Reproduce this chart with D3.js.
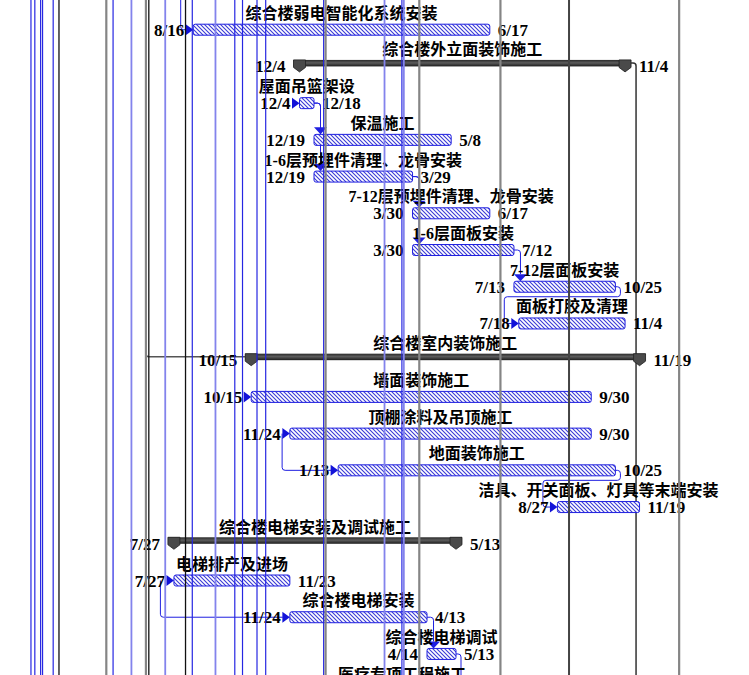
<!DOCTYPE html>
<html><head><meta charset="utf-8">
<script src="https://cdn.jsdelivr.net/npm/d3@7"></script>
<style>
html,body{margin:0;padding:0;background:#fff;overflow:hidden}
svg{display:block}
text{font-family:'Liberation Serif','Noto Sans CJK SC',serif;font-weight:bold;font-size:16px;fill:#000}
text.date{font-size:17px}
</style></head><body><svg id="c" width="749" height="675"></svg>
<script>
// ---------------- data ----------------
const taskNames = ["综合楼弱电智能化系统安装","综合楼外立面装饰施工","屋面吊篮架设","保温施工","1-6层预埋件清理、龙骨安装","7-12层预埋件清理、龙骨安装","1-6层面板安装","7-12层面板安装","面板打胶及清理","综合楼室内装饰施工","墙面装饰施工","顶棚涂料及吊顶施工","地面装饰施工","洁具、开关面板、灯具等末端安装","综合楼电梯安装及调试施工","电梯排产及进场","综合楼电梯安装","综合楼电梯调试","医疗专项工程施工"];
const taskStarts = ["2019-08-16","2019-12-04","2019-12-04","2019-12-19","2019-12-19","2020-03-30","2020-03-30","2020-07-13","2020-07-18","2019-10-15","2019-10-15","2019-11-24","2020-01-13","2020-08-27","2019-07-27","2019-07-27","2019-11-24","2020-04-14","2019-11-24"];
const taskFinishes = ["2020-06-17","2020-11-04","2019-12-18","2020-05-08","2020-03-29","2020-06-17","2020-07-12","2020-10-25","2020-11-04","2020-11-19","2020-09-30","2020-09-30","2020-10-25","2020-11-19","2020-05-13","2019-11-23","2020-04-13","2020-05-13","2020-07-12"];
const taskSummary = [false,true,false,false,false,false,false,false,false,true,false,false,false,false,true,false,false,false,true];
// arrow into bar start from the left
const leftArrowTasks = [0,2,8,10,11,12,13,15,16];
// finish-to-start links dropping straight down
const dropLinks = [[2,3],[2,4],[4,5],[4,6],[6,7],[16,17]];
// links wrapping back to the left
const wrapLinks = [[7,8],[12,13]];
// connectors coming from tasks above the view: [task, date of vertical]
const incomingLinks = [[0,"2019-08-03"],[9,"2019-06-28"]];
// connectors leaving to tasks below the view
const outgoingLinks = [1,17];
// side connectors: [fromRow, toTask, date of vertical]
const sideLinks = [[15,16,"2019-07-13"],[11,12,"2019-11-16"]];
// link lines of tasks outside the view: [date, style]
const linkLines = [
 ["2019-03-01","blue"],["2019-03-05","blue"],["2019-03-11","blue"],["2019-03-13","blue"],
 ["2019-03-24","blue"],["2019-03-30","black"],["2019-05-18","gray"],["2019-05-25","blue"],
 ["2019-06-13","light"],["2019-06-28","gray"],["2019-07-01","black"],["2019-07-18","light"],
 ["2019-08-08","black"],["2019-08-15","blue"],["2019-09-08","light"],["2019-09-28","blue"],
 ["2019-10-06","blue"],["2019-10-21","blue"],["2019-10-30","blue"],["2019-12-29","blue"],
 ["2019-12-31","gray"],["2020-03-01","light"],["2020-03-19","blue"],["2020-03-21","light"],
 ["2020-04-06","gray"],["2020-06-29","gray"],["2020-09-08","dark"],["2020-12-31","gray"]
];

// ---------------- scales ----------------
const parse = d3.timeParse("%Y-%m-%d");
const fmt = d3.timeFormat("%-m/%-d");
const W = 749, H = 675;
const d0 = parse("2019-01-01"), d1 = parse("2021-01-01"), dRef = parse("2019-12-19");
const pxPerDay = 0.966, xRef = 314;
const x = d3.scaleTime().domain([d0, d1])
  .range([xRef - d3.timeDay.count(d0, dRef) * pxPerDay, xRef + d3.timeDay.count(dRef, d1) * pxPerDay]);
const n = taskNames.length;
const y = d3.scalePoint().domain(d3.range(n)).range([29.7, 29.7 + (n - 1) * 36.72]);

const tasks = taskNames.map((name, i) => {
  const s = parse(taskStarts[i]), f = parse(taskFinishes[i]);
  return {i, name, s, f, xs: x(s), xe: x(d3.timeDay.offset(f, 1)), cy: y(i), summary: taskSummary[i]};
});

const svg = d3.select("#c");
const defs = svg.append("defs");
const pat = defs.append("pattern").attr("id", "hatch").attr("patternUnits", "userSpaceOnUse")
  .attr("width", 4).attr("height", 4);
pat.append("rect").attr("width", 4).attr("height", 4).attr("fill", "#fff");
pat.append("path").attr("d", "M-1,-1L5,5M3,-1L5,1M-1,3L1,5").attr("stroke", "#3a3ad6").attr("stroke-width", 1.1);
const lg = defs.append("linearGradient").attr("id", "sumg").attr("x1", 0).attr("y1", 0).attr("x2", 0).attr("y2", 1);
lg.append("stop").attr("offset", "0%").attr("stop-color", "#2a2a2a");
lg.append("stop").attr("offset", "45%").attr("stop-color", "#5c5c5c");
lg.append("stop").attr("offset", "100%").attr("stop-color", "#1c1c1c");

const gLinks = svg.append("g");
const gBars = svg.append("g");
const gText = svg.append("g");
const gLines = svg.append("g");

const BLUE = "#1f1fe0";
const r = 3;

// ---------------- connectors ----------------
dropLinks.forEach(([a, b]) => {
  const p = tasks[a], q = tasks[b];
  const vx = p.xe + 6.5, top = q.cy - 5.5 - 7;
  gLinks.append("path").attr("fill", "none").attr("stroke", BLUE).attr("stroke-width", 1)
    .attr("d", `M${p.xe},${p.cy}H${vx - r}Q${vx},${p.cy} ${vx},${p.cy + r}V${top}`);
  gLinks.append("path").attr("fill", BLUE)
    .attr("d", `M${vx - 6.5},${top}H${vx + 6.5}L${vx},${q.cy - 5.5}Z`);
});
wrapLinks.forEach(([a, b]) => {
  const p = tasks[a], q = tasks[b];
  const vx = p.xe + 5, hy = p.cy + 10, lx = q.xs - 14.5;
  gLinks.append("path").attr("fill", "none").attr("stroke", BLUE).attr("stroke-width", 1)
    .attr("d", `M${p.xe},${p.cy}H${vx - r}Q${vx},${p.cy} ${vx},${p.cy + r}V${hy - r}Q${vx},${hy} ${vx - r},${hy}` +
      `H${lx + r}Q${lx},${hy} ${lx},${hy + r}V${q.cy - r}Q${lx},${q.cy} ${lx + r},${q.cy}H${q.xs - 7}`);
});
incomingLinks.forEach(([b, dt]) => {
  const q = tasks[b], vx = x(parse(dt));
  const ty = q.summary ? q.cy - 3.5 : q.cy;
  const tx = q.summary ? q.xs - 6 : q.xs - 7;
  gLinks.append("path").attr("fill", "none").attr("stroke", q.summary ? "#555" : BLUE).attr("stroke-width", q.summary ? 1.5 : 1)
    .attr("d", `M${vx},0V${ty - r}Q${vx},${ty} ${vx + r},${ty}H${tx}`);
});
outgoingLinks.forEach(a => {
  const p = tasks[a];
  const sy = p.summary ? p.cy - 3.5 : p.cy;
  const sx = p.summary ? p.xe + 6 : p.xe;
  const vx = p.summary ? p.xe + 11 : p.xe + 5;
  gLinks.append("path").attr("fill", "none").attr("stroke", p.summary ? "#333" : BLUE).attr("stroke-width", p.summary ? 1.5 : 1)
    .attr("d", `M${sx},${sy}H${vx - r}Q${vx},${sy} ${vx},${sy + r}V${H}`);
});
sideLinks.forEach(([a, b, dt]) => {
  const q = tasks[b], vx = x(parse(dt)), sy = y(a);
  gLinks.append("path").attr("fill", "none").attr("stroke", BLUE).attr("stroke-width", 1)
    .attr("d", `M${vx},${sy}V${q.cy - r}Q${vx},${q.cy} ${vx + r},${q.cy}H${q.xs - 7}`);
});

// ---------------- bars ----------------
tasks.filter(t => !t.summary).forEach(t => {
  gBars.append("rect").attr("x", t.xs).attr("y", t.cy - 5.5).attr("width", t.xe - t.xs).attr("height", 11)
    .attr("rx", 2).attr("fill", "url(#hatch)").attr("stroke", BLUE).attr("stroke-width", 1);
});
leftArrowTasks.forEach(i => {
  const t = tasks[i];
  gBars.append("path").attr("fill", "#1212d8")
    .attr("d", `M${t.xs - 7.5},${t.cy - 5.5}L${t.xs},${t.cy}L${t.xs - 7.5},${t.cy + 5.5}Z`);
});
tasks.filter(t => t.summary).forEach(t => {
  gBars.append("rect").attr("x", t.xs - 6).attr("y", t.cy - 6.5).attr("width", t.xe - t.xs + 12).attr("height", 6.5)
    .attr("fill", "url(#sumg)");
  [t.xs, t.xe].forEach(cx => {
    gBars.append("path").attr("fill", "#4a4a4a").attr("stroke", "#222").attr("stroke-width", 0.8)
      .attr("d", `M${cx - 6},${t.cy - 6.5}H${cx + 6}V${t.cy + 1}L${cx},${t.cy + 5.5}L${cx - 6},${t.cy + 1}Z`);
  });
});

// ---------------- text ----------------
tasks.forEach(t => {
  gText.append("text").attr("x", (t.xs + t.xe) / 2).attr("y", t.cy - 11).attr("text-anchor", "middle").text(t.name);
  if (t.cy + 6 > H) return; // date labels below the visible area
  const off = t.summary ? 14 : 9;
  gText.append("text").attr("class", "date").attr("x", t.xs - off).attr("y", t.cy + 6).attr("text-anchor", "end").text(fmt(t.s));
  gText.append("text").attr("class", "date").attr("x", t.xe + (t.summary ? 14 : 8)).attr("y", t.cy + 6).text(fmt(t.f));
});

// ---------------- outside link lines ----------------
const lineStyle = {
  blue: ["#2626e2", 1.2], light: ["#8383ec", 1.8], black: ["#111", 1.3],
  gray: ["#858585", 2.2], dark: ["#444", 2]
};
gLines.selectAll("line").data(linkLines).join("line")
  .attr("x1", d => x(parse(d[0]))).attr("x2", d => x(parse(d[0])))
  .attr("y1", 0).attr("y2", H)
  .attr("stroke", d => lineStyle[d[1]][0]).attr("stroke-width", d => lineStyle[d[1]][1]);
</script></body></html>
